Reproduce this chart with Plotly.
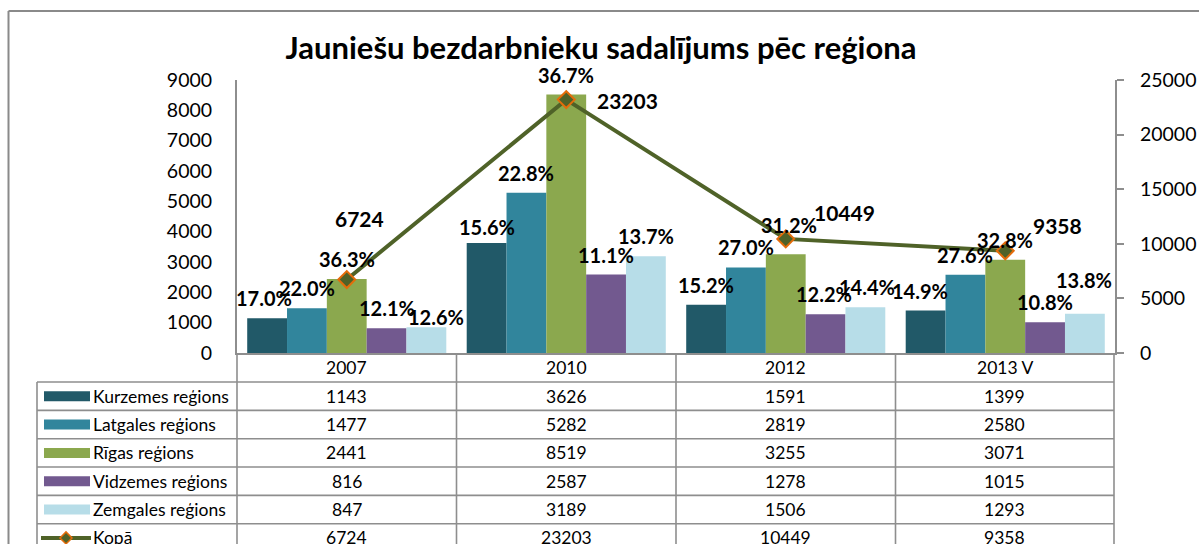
import plotly.graph_objects as go

# ---------------- data ----------------
years = ["2007", "2010", "2012", "2013 V"]
series_names = ["Kurzemes reģions", "Latgales reģions", "Rīgas reģions",
                "Vidzemes reģions", "Zemgales reģions"]
kurzemes = [1143, 3626, 1591, 1399]
latgales = [1477, 5282, 2819, 2580]
rigas = [2441, 8519, 3255, 3071]
vidzemes = [816, 2587, 1278, 1015]
zemgales = [847, 3189, 1506, 1293]
kopa = [6724, 23203, 10449, 9358]
total_name = "Kopā"
title_text = "Jauniešu bezdarbnieku sadalījums pēc reģiona"

series_values = [kurzemes, latgales, rigas, vidzemes, zemgales]
colors = ["#215968", "#31859C", "#8BA84E", "#72598F", "#B7DDE8"]
line_color = "#4F6228"
marker_edge = "#E46C0A"
grid_gray = "#8E8E8E"
FONT = "Lato"

# ---------------- geometry (page pixels) ----------------
W, H = 1199, 544
PL, PR, PT, PB = 237, 1115, 80, 353
BARGAP = 0.093


def px(x):
    return (x - PL) / (PR - PL)


def py(y):
    return (PB - y) / (PB - PT)


n_cat = len(years)
xs = list(range(n_cat))

fig = go.Figure()
for name, vals, col in zip(series_names, series_values, colors):
    fig.add_trace(go.Bar(x=xs, y=vals, name=name, marker=dict(color=col, line=dict(width=0)),
                         showlegend=False, hoverinfo="x+y+name"))

fig.add_trace(go.Scatter(x=xs, y=kopa, name=total_name, yaxis="y2", mode="lines+markers",
                         line=dict(color=line_color, width=4),
                         marker=dict(symbol="diamond", size=13, color=line_color,
                                     line=dict(color=marker_edge, width=2)),
                         showlegend=False, cliponaxis=False))

annotations = []
shapes = []

# percentage labels above bars
n_s = len(series_names)
gw = 1 - BARGAP
bw = gw / n_s
adj = {(4, 0): (10, -10), (2, 2): (3, 9), (4, 3): (-1, 14), (0, 1): (0, -4), (0, 3): (-6, 0),
       (0, 0): (-3, 0), (3, 2): (-2, 0), (4, 2): (2, 0)}
for si, vals in enumerate(series_values):
    for ci, v in enumerate(vals):
        share = v / kopa[ci] * 100
        dx, dy = adj.get((si, ci), (0, 0))
        annotations.append(dict(x=ci - gw / 2 + (si + 0.5) * bw, y=v, xref="x", yref="y",
                                text=f"{share:.1f}%", showarrow=False, yanchor="middle",
                                xanchor="center", xshift=dx, yshift=20 + dy,
                                font=dict(family=FONT, size=20, color="black", weight="bold")))

# total labels
tot_off = [(13, 61), (61, -1), (59, 26), (52, 25)]
for ci, v in enumerate(kopa):
    dx, dy = tot_off[ci]
    annotations.append(dict(x=ci, y=v, xref="x", yref="y2", text=str(v), showarrow=False,
                            xanchor="center", yanchor="middle", xshift=dx, yshift=dy,
                            font=dict(family=FONT, size=21, color="black", weight="bold")))

# ---------------- data table ----------------
TL = 37
TR = 1114
hdr_top, hdr_bot = PB, 382
row_h = 28.35
n_rows = n_s + 1
row_tops = [hdr_bot + i * row_h for i in range(n_rows)]
t_bottom = hdr_bot + n_rows * row_h
col_edges = [PL + i * (PR - PL) / n_cat for i in range(n_cat + 1)]
col_edges[-1] = TR
line_style = dict(color=grid_gray, width=1.6)


def hline(y, x0, x1):
    shapes.append(dict(type="line", xref="paper", yref="paper", x0=px(x0), x1=px(x1),
                       y0=py(y), y1=py(y), line=line_style, layer="above"))


def vline(x, y0, y1):
    shapes.append(dict(type="line", xref="paper", yref="paper", x0=px(x), x1=px(x),
                       y0=py(y0), y1=py(y1), line=line_style, layer="above"))


for rt in row_tops:
    hline(rt, TL, TR)
hline(t_bottom, TL, TR)
vline(TL, hdr_bot, t_bottom)
for ce in col_edges:
    vline(ce, hdr_top, t_bottom)

cell_font = dict(family=FONT, size=17.5, color="black")
for ci, yr in enumerate(years):
    cx = (col_edges[ci] + col_edges[ci + 1]) / 2
    annotations.append(dict(x=px(cx), y=py((hdr_top + hdr_bot) / 2), xref="paper", yref="paper",
                            text=yr, showarrow=False, xanchor="center", yanchor="middle",
                            font=cell_font))

row_labels = series_names + [total_name]
row_values = series_values + [kopa]
for ri, (lab, vals) in enumerate(zip(row_labels, row_values)):
    cy = row_tops[ri] + row_h / 2
    annotations.append(dict(x=px(91), y=py(cy), xref="paper", yref="paper", text=lab,
                            showarrow=False, xanchor="left", yanchor="middle", font=cell_font))
    for ci, v in enumerate(vals):
        cx = (col_edges[ci] + col_edges[ci + 1]) / 2
        annotations.append(dict(x=px(cx), y=py(cy), xref="paper", yref="paper", text=str(v),
                                showarrow=False, xanchor="center", yanchor="middle",
                                font=cell_font))
    if ri < n_s:
        shapes.append(dict(type="rect", xref="paper", yref="paper", x0=px(44), x1=px(90),
                           y0=py(cy + 5), y1=py(cy - 5), fillcolor=colors[ri],
                           line=dict(width=0), layer="above"))
    else:
        shapes.append(dict(type="line", xref="paper", yref="paper", x0=px(41), x1=px(91),
                           y0=py(cy), y1=py(cy), line=dict(color=line_color, width=4),
                           layer="above"))
        mx, r = 66, 6
        path = (f"M {px(mx - r)},{py(cy)} L {px(mx)},{py(cy - r)} "
                f"L {px(mx + r)},{py(cy)} L {px(mx)},{py(cy + r)} Z")
        shapes.append(dict(type="path", xref="paper", yref="paper", path=path,
                           fillcolor=line_color, line=dict(color=marker_edge, width=1.5),
                           layer="above"))

# outer chart frame
shapes.append(dict(type="line", xref="paper", yref="paper", x0=px(8.5), x1=px(8.5),
                   y0=py(11), y1=py(H + 5), line=dict(color="#8A8A8A", width=2)))
shapes.append(dict(type="line", xref="paper", yref="paper", x0=px(8.5), x1=px(W + 5),
                   y0=py(11), y1=py(11), line=dict(color="#8A8A8A", width=2)))

fig.update_layout(
    width=W, height=H, autosize=False,
    margin=dict(l=PL, r=W - PR, t=PT, b=H - PB, pad=0, autoexpand=False),
    paper_bgcolor="white", plot_bgcolor="white",
    barmode="group", bargap=BARGAP, bargroupgap=0,
    showlegend=False,
    title=dict(text=title_text, x=601 / W, y=1 - 48 / H,
               xref="container", yref="container", xanchor="center", yanchor="middle",
               automargin=False,
               font=dict(family=FONT, size=31, color="black", weight="bold")),
    xaxis=dict(range=[-0.5, n_cat - 0.5], showticklabels=False, ticks="", showgrid=False,
               zeroline=False, showline=True, linecolor=grid_gray, linewidth=2, fixedrange=True,
               automargin=False),
    yaxis=dict(range=[0, 9000], dtick=1000, tick0=0, showgrid=False, zeroline=False,
               showline=True, linecolor=grid_gray, linewidth=2, ticks="",
               ticklabelstandoff=19, tickformat="d", automargin=False,
               tickfont=dict(family=FONT, size=19.5, color="black")),
    yaxis2=dict(range=[0, 25000], dtick=5000, tick0=0, overlaying="y", side="right",
                showgrid=False, zeroline=False, showline=True, linecolor=grid_gray, linewidth=2,
                ticks="outside", ticklen=7, tickwidth=2, tickcolor=grid_gray,
                ticklabelstandoff=12, tickformat="d", automargin=False,
                tickfont=dict(family=FONT, size=19.5, color="black")),
    annotations=annotations,
    shapes=shapes,
    font=dict(family=FONT, color="black"),
)

# place the fixed-size figure flush with the window (no page margin / scrollbars)
fig.write_html("out.html", config={"displayModeBar": False},
               post_script="document.body.style.margin='0';"
                           "document.body.style.overflow='hidden';"
                           "document.documentElement.style.overflow='hidden';")
